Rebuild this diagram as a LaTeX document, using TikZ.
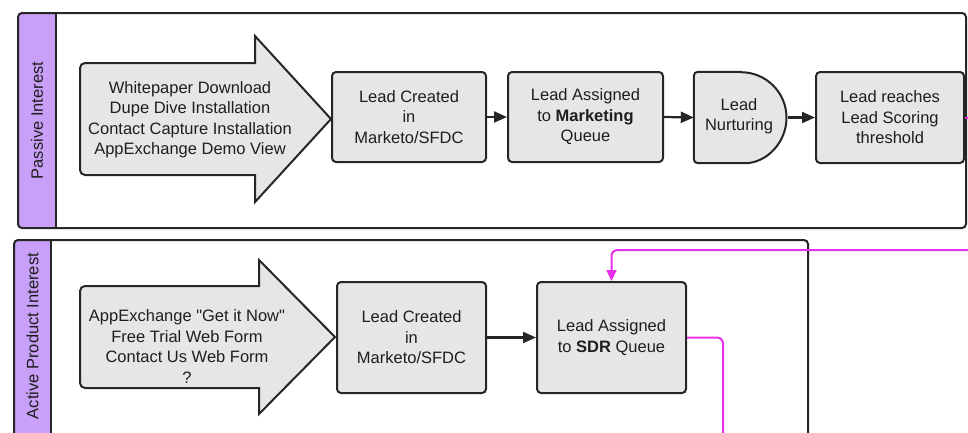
\documentclass[tikz,border=0pt]{standalone}
\usepackage{fontspec}
\setmainfont{Liberation Sans}[Ligatures=TeXOff]
\usetikzlibrary{arrows.meta}
\definecolor{lanepurple}{RGB}{201,160,247}
\definecolor{boxgray}{RGB}{230,230,230}
\definecolor{edgec}{RGB}{38,38,38}
\definecolor{mag}{RGB}{232,48,232}
\definecolor{txt}{RGB}{30,30,30}
\begin{document}
\begin{tikzpicture}[x=1pt,y=-1pt,
  font=\fontsize{16.5}{20.5}\selectfont, text=txt,
  proc/.style={draw=edgec, line width=2pt, fill=boxgray, rounded corners=4pt,
    align=center, inner sep=0pt},
  lane/.style={draw=edgec, line width=2pt, rounded corners=4pt},
  bigarrow/.style={draw=edgec, line width=2pt, fill=boxgray},
  flow/.style={draw=edgec, line width=2.2pt, -{Triangle[length=13pt,width=11pt]}},
  mflow/.style={draw=mag, line width=2pt, rounded corners=6pt},
  lanelabel/.style={rotate=90, inner sep=0pt}
]
\useasboundingbox (0,0) rectangle (968,432);
\clip (0,0) rectangle (968,432);

% ---------- top lane ----------
\fill[lanepurple, rounded corners=4pt] (18,13) rectangle (56,228);
\fill[lanepurple] (40,13) rectangle (56,228);
\draw[lane] (18,13) rectangle (966,228);
\draw[edgec, line width=2pt] (56,13) -- (56,228);
\node[lanelabel] (lab1) at (37,120.5) {Passive Interest};

\draw[bigarrow] (168,63) [rounded corners=5pt] -- (80,63) -- (80,175) -- (168,175)
  [sharp corners] -- (255,175) -- (255,202) -- (331,119) -- (255,36) -- (255,63) -- cycle;
\node[align=center] (src1) at (190,119.5) {Whitepaper Download\\Dupe Dive Installation\\Contact Capture Installation\\AppExchange Demo View};

\node[proc, minimum width=154pt, minimum height=90pt] (lc1) at (409,117) {Lead Created\\in\\Marketo/SFDC};
\node[proc, minimum width=155pt, minimum height=90pt] (mq) at (585.5,117) {Lead Assigned\\to \textbf{Marketing}\\Queue};
\node[minimum width=94pt, minimum height=91pt, inner sep=0pt] (nurt) at (741,117.5) {};
\draw[draw=edgec, line width=2pt, fill=boxgray]
  (nurt.north) [rounded corners=4pt] -- (nurt.north west) -- (nurt.south west) -- (nurt.south)
  [sharp corners] arc[start angle=-90, end angle=90, radius=45.5pt] -- cycle;
\node[align=center] (nurttext) at (739,116) {Lead\\Nurturing};
\node[proc, minimum width=148pt, minimum height=91pt] (lrt) at (890,117.5) {Lead reaches\\Lead Scoring\\threshold};

\draw[flow] (lc1.east) -- (mq.west);
\draw[flow] (mq.east) -- (nurt.west);
\draw[flow] (nurt.east) -- (lrt.west);

% ---------- bottom lane ----------
\fill[lanepurple, rounded corners=4pt] (14,240) rectangle (51,445);
\fill[lanepurple] (35,240) rectangle (51,445);
\draw[lane] (14,240) rectangle (808,445);
\draw[edgec, line width=2pt] (51,240) -- (51,445);
\node[lanelabel] (lab2) at (32.5,336) {Active Product Interest};

\draw[bigarrow] (168,286) [rounded corners=5pt] -- (80,286) -- (80,388) -- (168,388)
  [sharp corners] -- (259,388) -- (259,414) -- (335,337) -- (259,260) -- (259,286) -- cycle;
\node[align=center] (src2) at (187,346.5) {AppExchange "Get it Now"\\Free Trial Web Form\\Contact Us Web Form\\?};

\node[proc, minimum width=149pt, minimum height=111pt] (lc2) at (411.5,337.5) {Lead Created\\in\\Marketo/SFDC};
\node[proc, minimum width=149pt, minimum height=111pt] (sdr) at (611.5,337.5) {Lead Assigned\\to \textbf{SDR} Queue};

\draw[flow] (lc2.east) -- (sdr.west);

% ---------- magenta connectors ----------
\coordinate (m1) at (975,117.5);
\coordinate (m2) at (975,250);
\coordinate (m3) at (723,450);
\draw[mflow] (lrt.east) -- (m1);
\draw[mflow, -{Triangle[length=11pt,width=10pt]}] (m2) -| (sdr.north);
\draw[mflow] (sdr.east) -| (m3);
\end{tikzpicture}
\end{document}
